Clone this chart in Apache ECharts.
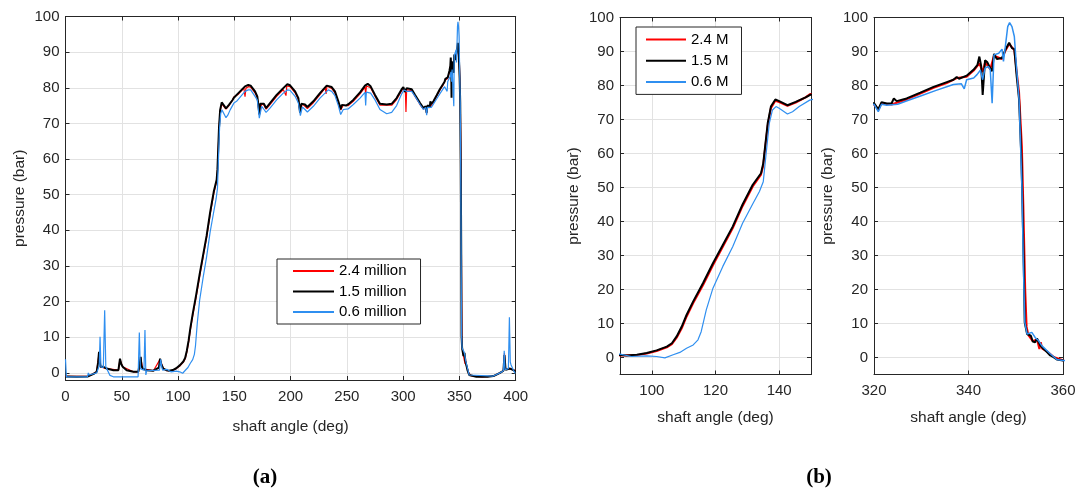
<!DOCTYPE html>
<html><head><meta charset="utf-8">
<script src="https://cdn.jsdelivr.net/npm/echarts@6/dist/echarts.min.js"></script>
<style>html,body{margin:0;padding:0;background:#fff}#c{width:1080px;height:496px}</style>
</head><body><div id="c"></div>
<script>
// ---------------- data ----------------
const seriesNames = ['2.4 million', '1.5 million', '0.6 million'];
const seriesNamesShort = ['2.4 M', '1.5 M', '0.6 M'];
const xAxisTitle = 'shaft angle (deg)';
const yAxisTitle = 'pressure (bar)';
const panelLabels = ['(a)', '(b)'];

const xRangeA = [0, 400], xRangeB = [90, 150], xRangeC = [320, 360];
const yRangeA = [-2, 100], yRangeBC = [-5, 100];
const xStepA = 50, xStepBC = 20, yStep = 10;

// 2.4 million cycles
const angle24 = [0,20,27.7,29.8,31.2,36.6,47,48.4,50.8,60.3,64.7,66.8,68.6,78.1,84,86.9,90,95.3,98.4,101.5,104.7,106.3,107.8,109.4,110.9,113,116.1,119.2,122.3,125.4,128.5,131.7,134.3,135,136.4,137.4,138.8,140,142.6,145.2,148.3,149.6,153.6,158.5,159.5,160.3,162.4,164.5,168.4,170.4,172.2,174.3,176.4,178.2,181.7,187.6,193.5,195.9,196.6,199.5,204,206.9,208.4,210.4,214.9,220.2,226.1,230.8,231.5,232.3,236.5,239.4,242.4,244.5,246.8,251.3,255.7,261.7,266.1,266.7,267.4,271.1,275,279.4,289.8,294.2,298.7,300.2,302,302.5,303.1,307.6,310.6,315,318,320,320.9,321.6,323.7,326.9,329.8,332.6,335.4,337.5,339.6,341.1,342.3,343,343.5,344.6,345.4,347.1,347.8,348.6,349.7,350.2,350.7,351.3,351.6,352,352.3,352.7,353.6,354.5,355,355.3,355.6,356.6,358,360,370,380.2,386.1,389.1,390,391,395,396.5,398,400];
const p24 = [-1.0,-1.0,0.3,5.5,1.7,1.2,0.75,3.8,1.7,0.3,0.3,4.3,1.2,0.6,3.8,1.2,0.6,0.7,1.2,1.9,3.0,3.9,5.8,8.6,12,16,21.3,27.1,32.6,38,44.5,50.3,53.8,56.5,68.2,73.3,75.5,75.1,74,75,76.5,77.4,78.2,79.9,77.5,79.9,80.3,80.2,78.6,77.2,72.5,75.5,75.1,74,75.3,77.6,79.5,77.8,80.5,80.3,78.6,76.7,73.2,75.5,74.2,75.8,78.1,80,78.3,80.5,79.8,78.6,75.8,73.8,75.1,75,76.2,78.3,80.2,78.2,80.5,80,77.6,75.1,75.1,76.7,79.2,79.8,79,73.2,79.5,79.2,77.6,75.3,74,74.5,72.8,74.8,74.4,75.9,77.6,79.3,80.7,82.2,82.6,84.4,86.5,84,86.8,84.8,88.8,87.8,90.2,92.2,90.4,84,78,62,45,20,9,6.5,4.8,5.3,2.5,4.5,2.6,1.8,0.2,-0.8,-1.1,-0.9,0,0.6,5.5,1,1.2,1.7,0.8,0.7];

// 1.5 million cycles
const angle15 = [0,10,20,25,27.7,29,29.8,30.5,31.2,33.6,36.6,42.5,47,48,48.4,49.5,50.8,54.3,60.3,64.7,66,66.8,67.5,68.6,72.1,78.1,83,84,85,86.9,90,92.1,95.3,98.4,101.5,104.7,106.3,107.8,109.4,110.9,113,116.1,119.2,122.3,125.4,128.5,131.7,134.3,135,136.4,137.4,138.8,140,142.6,145.2,148.3,149.6,153.6,159.5,162.4,164.5,168.4,170.4,171.5,172.2,173,174.3,176.4,178.2,181.7,187.6,193.5,197.1,199.5,204,206.9,208.4,209.5,210.4,212.8,214.9,220.2,226.1,232.1,233.5,236.5,239.4,242.4,244.5,245.5,246.8,249.2,251.3,255.7,261.7,266.1,268.5,271.1,275,279.4,285.4,289.8,294.2,298.7,300.2,301.5,303.1,304.7,307.6,310.6,315,318,320,320.9,321.6,322.7,323.7,324.2,324.8,326.9,329.8,332.6,335.4,336.8,337.5,338,339.6,341.1,341.9,342.3,342.7,343,343.5,344,344.6,345,345.4,346,347.1,347.8,348.6,349.2,349.7,350.2,350.7,351.2,351.4,351.7,351.9,352.4,352.7,353.2,353.6,354.1,354.5,355.2,355.9,356.6,357.3,358,358.7,360,365,375,380.2,386.1,389.1,390,391,395,396.5,398,400];
const p15 = [-1.0,-1.1,-1.0,-0.3,0.3,3,5.9,3,1.7,1.7,1.2,0.75,0.75,3,4.0,2.5,1.7,0.75,0.3,0.3,2.5,4.5,2,1.2,0.75,0.6,1.5,4,2.5,1.2,0.7,0.6,0.8,1.3,2.1,3.2,4.2,6.2,9.1,12.5,16.5,21.9,27.7,33.1,38.5,45,50.8,54.2,57.1,68.9,73.8,75.9,75.4,74.2,75.2,76.5,77.2,78.5,80.4,80.8,80.6,79,77.6,75,72.5,75.5,75.9,75.5,74.3,75.7,78,79.9,81,80.7,79,77.1,73,75.5,75.9,75.3,74.6,76.2,78.5,80.6,81.1,80.2,79,76.2,74,75.2,75.5,75,75.4,76.6,78.7,80.6,81.1,80.4,78,75.5,75.3,75.5,77.1,79.6,80.2,78.8,79.9,79.9,79.6,78,75.7,74.3,74.8,73,75.1,74.7,74.7,76.2,75.4,76.2,77.9,79.6,81,81.7,82.5,82,82.9,84.7,86.1,88.5,85.6,77.2,87.4,86.8,85.1,84.2,89.3,87.8,88.1,90.5,92.6,91,90.7,82.7,75.9,58.4,46.5,26.9,10.3,6.9,6.4,6.4,4.7,4.5,5.6,3.5,2.5,1.6,0.6,0.1,-0.6,-0.9,-1.1,-1.1,-0.9,0,0.6,5,0.9,1.2,1.7,0.75,0.5];

// 0.6 million cycles
const angle06 = [0,0.8,10,19.5,20.3,21,27.7,30,30.7,31.5,33.6,34.8,35.8,39.5,42.5,64.5,65.6,66.5,69.7,70.6,71.4,72.1,73.6,83.5,84.6,85.6,86.3,90,93.6,98.4,101.5,104.1,106.7,108.8,110.9,113,114.5,115.5,117.1,119.2,122.3,125.4,128.5,131.6,133.8,135,135.8,136.9,137.9,139,140,142.6,144.2,146.3,149.6,152,159.5,162.4,164.5,168.4,170.4,172.2,174.3,176.4,178.2,181.7,187.6,193.5,197.1,199.5,204,206.9,208.7,210.4,212.8,214.9,220.2,226.1,233.5,236.5,239.4,242.4,244.5,246.8,251.3,255.7,261.7,266.1,266.7,267.3,268.5,271.1,275,279.4,285.4,289.8,294.2,298.7,300.8,303.1,307.6,310.6,315,318,320,320.9,321.6,322.7,325,327,330,333,336.8,338.5,339.1,339.6,341.1,341.8,342.5,343,343.5,344.2,344.6,345,345.4,346.4,347.1,347.4,347.8,348.3,348.7,349.2,349.7,350.2,350.7,351.3,351.6,351.9,352.4,353.4,354.1,354.8,355.5,357.3,358.7,360,380,386.1,389.1,389.8,390.5,393.5,394.4,395.2,395.9,398,399.5,400];
const p06 = [3.8,-1.1,-1.1,-1.1,0,-0.6,0,2,10.1,1.7,1.5,17.6,1.7,-0.7,-1.1,-1.1,11.3,1.2,0.75,12,-0.6,0.6,0.75,0.75,3.8,1.5,0.75,1.0,0.3,0.5,0.3,-0.1,0.8,1.5,2.7,3.7,5.2,7.6,14,20.4,26.8,32.6,39.5,45,48.8,51.7,59,68.9,72.8,73.8,73.3,71.6,72.3,73.8,75.7,76.2,79,79.4,79.4,77.6,76.6,71.5,74.8,73.9,73.1,74.3,76.6,78.5,79.4,79.3,77.6,75.7,72.2,74.6,73.9,73.2,74.8,77.1,79.4,79,77.8,75,72.5,73.9,74.1,75.3,77.1,78.7,75,78.8,79,78.5,76.6,73.9,72.7,73.1,75,78.3,79.4,79,79,77.6,75.3,73.9,74.5,72.3,74.5,74.2,74.5,75.5,77,78.5,80.3,80.5,79,81.7,82.2,83.2,84.5,81.7,85.1,85.6,84.7,74.8,89,89.5,90.7,87.1,91.5,97.3,98.5,97.3,94.4,84.7,75.9,50.5,28,10.5,6.9,7.4,5.9,5,3.5,1.1,-0.6,-0.9,-0.9,0,0.6,6.2,0.9,1.2,15.6,3,2.2,0.75,-0.2,-0.2];

// ---------------- chart ----------------
const pairs = (xs, ys) => xs.map((x, i) => [x, ys[i]]);
const angles = [angle24, angle15, angle06];
const values = [p24, p15, p06];
const colors = ['#ff0000', '#000000', '#2f8ff0'];
const FONT = 'Liberation Sans';
const AX = '#262626';

function lbl(step) {
  return v => (Math.abs(v / step - Math.round(v / step)) < 1e-9 ? String(v) : '');
}
function valueAxis(grid, range, step, position, main, extra) {
  const span = range[1] - range[0];
  return Object.assign({
    type: 'value', gridIndex: grid, position: position,
    min: range[0], max: range[1],
    splitNumber: Math.round(span / step), minInterval: step, maxInterval: step,
    axisLine: { show: true, onZero: false, lineStyle: { color: AX, width: 1 } },
    axisTick: { show: true, inside: true, length: 4, lineStyle: { color: AX } },
    axisLabel: main ? { show: true, formatter: lbl(step), color: AX, fontFamily: FONT, fontSize: 15 } : { show: false },
    splitLine: { show: main, lineStyle: { color: '#e2e2e2', width: 1 } }
  }, extra || {});
}

const grids = [
  { left: 65.5, top: 16.5, width: 450.2, height: 363.5 },
  { left: 620, top: 17.5, width: 191, height: 357 },
  { left: 874, top: 17.5, width: 189, height: 357 }
];
const xRanges = [xRangeA, xRangeB, xRangeC];
const xSteps = [xStepA, xStepBC, xStepBC];
const yRanges = [yRangeA, yRangeBC, yRangeBC];
const xNameGaps = [39, 35, 35.5];
const xLblMargin = [9.5, 9, 9];

const xAxes = [], yAxes = [], series = [];
for (let g = 0; g < 3; g++) {
  xAxes.push(valueAxis(g, xRanges[g], xSteps[g], 'bottom', true, {
    name: xAxisTitle, nameLocation: 'middle', nameGap: xNameGaps[g],
    nameTextStyle: { color: AX, fontFamily: FONT, fontSize: 15.5 }
  }));
  xAxes[xAxes.length - 1].axisLabel.margin = xLblMargin[g];
  xAxes.push(valueAxis(g, xRanges[g], xSteps[g], 'top', false));
  yAxes.push(valueAxis(g, yRanges[g], yStep, 'left', true, {
    name: yAxisTitle, nameLocation: 'middle', nameGap: 38, nameRotate: 90,
    nameTextStyle: { color: AX, fontFamily: FONT, fontSize: 15.5 }
  }));
  yAxes[yAxes.length - 1].axisLabel.margin = 6;
  yAxes.push(valueAxis(g, yRanges[g], yStep, 'right', false));
  const names = g === 0 ? seriesNames : seriesNamesShort;
  const widths = g === 0 ? [1.2, 2, 1.2] : (g === 1 ? [2, 2, 1.2] : [2, 2, 1.5]);
  for (let s = 0; s < 3; s++) {
    series.push({
      type: 'line', name: names[s], xAxisIndex: g * 2, yAxisIndex: g * 2,
      data: pairs(angles[s], values[s]), symbol: 'none', showSymbol: false,
      lineStyle: { color: colors[s], width: widths[s] }, itemStyle: { color: colors[s] },
      clip: true, animation: false, silent: true, z: 2 + s
    });
  }
}

const legendText = { fontSize: 15, lineHeight: 18, color: '#000', fontFamily: FONT };
const legendCommon = {
  orient: 'vertical', itemHeight: 12, borderColor: AX, borderWidth: 1, borderRadius: 0,
  backgroundColor: '#fff', textStyle: legendText, selectedMode: false,
  itemStyle: { opacity: 0, borderWidth: 0 }
};
const option = {
  animation: false,
  backgroundColor: '#fff',
  grid: grids,
  xAxis: xAxes,
  yAxis: yAxes,
  legend: [
    Object.assign({ data: seriesNames, left: 277, top: 259, itemWidth: 41, itemGap: 2.5, padding: [3, 14, 3, 15] }, legendCommon),
    Object.assign({ data: seriesNamesShort, left: 636, top: 27, itemWidth: 40, itemGap: 3.2, padding: [3.5, 13, 3.5, 9] }, legendCommon)
  ],
  graphic: [
    { type: 'text', x: 265, y: 478, style: { text: panelLabels[0], textAlign: 'center', textVerticalAlign: 'middle', font: 'bold 21px "Liberation Serif"', fill: '#000' } },
    { type: 'text', x: 819, y: 478, style: { text: panelLabels[1], textAlign: 'center', textVerticalAlign: 'middle', font: 'bold 21px "Liberation Serif"', fill: '#000' } }
  ],
  series: series
};
const chart = echarts.init(document.getElementById('c'), null, { renderer: 'canvas' });
chart.setOption(option);
</script>
</body></html>
